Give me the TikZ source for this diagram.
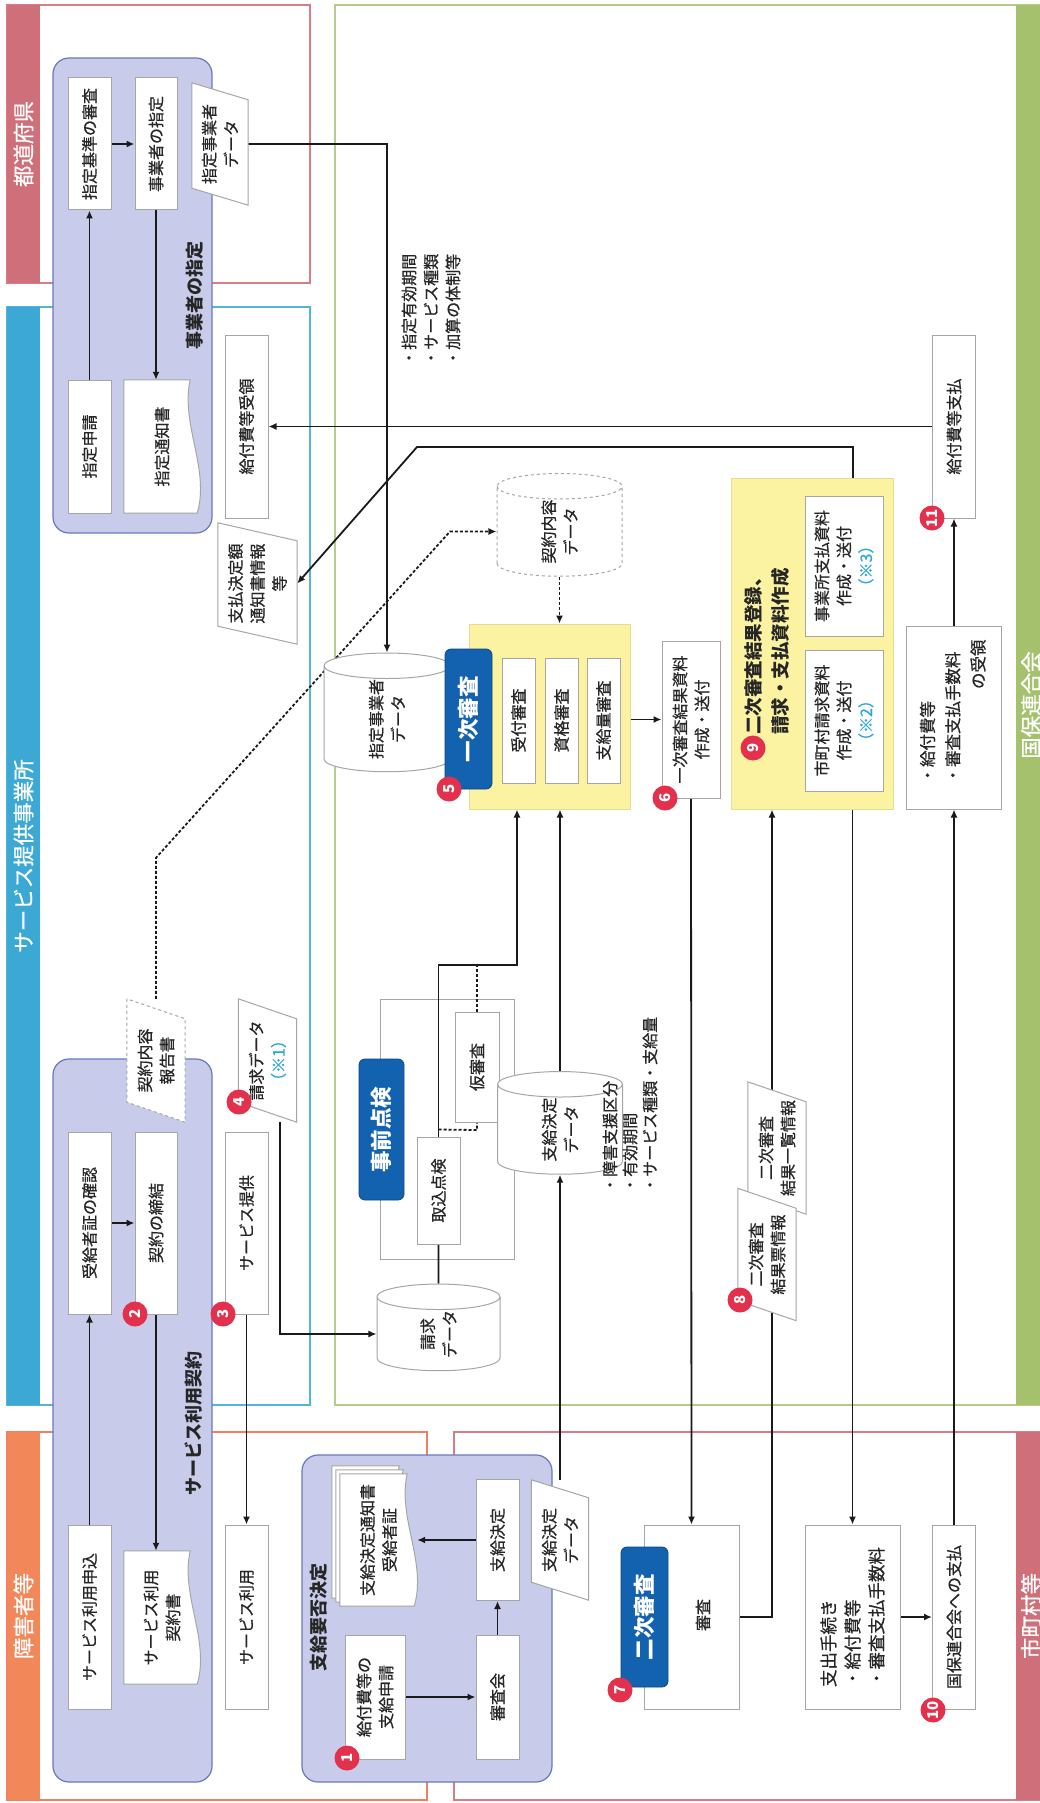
\documentclass[tikz,border=0pt]{standalone}
\usepackage{fontspec}
\setmainfont{Noto Sans CJK JP}[UprightFeatures={FakeBold=0.6}]
\usetikzlibrary{arrows.meta,calc,shapes.geometric}
\pgfdeclarelayer{bg}
\pgfdeclarelayer{lines}
\pgfdeclarelayer{shapes}
\pgfsetlayers{bg,lines,shapes,main}
\definecolor{pinkc}{HTML}{CF6F79}
\definecolor{pinkln}{HTML}{D67D86}
\definecolor{bluec}{HTML}{3CA9D5}
\definecolor{blueln}{HTML}{55B5D8}
\definecolor{orangec}{HTML}{F2875A}
\definecolor{orangeln}{HTML}{F27E62}
\definecolor{greenc}{HTML}{A6C16E}
\definecolor{greenln}{HTML}{B6CB8C}
\definecolor{grpfill}{HTML}{C8CCEA}
\definecolor{grpborder}{HTML}{6A79BD}
\definecolor{ylwfill}{HTML}{FCF3A2}
\definecolor{ylwborder}{HTML}{E8DC8E}
\definecolor{lblblue}{HTML}{1362B0}
\definecolor{numred}{HTML}{E3314D}
\definecolor{boxgray}{HTML}{A6A6A6}
\definecolor{lk}{HTML}{1A1A1A}
\definecolor{txtc}{HTML}{262626}
\definecolor{cyanc}{HTML}{2BA8D8}
\tikzset{
 tbase/.style={font=\fontsize{16}{22}\selectfont, text=txtc, inner sep=0pt, align=center},
 tbox/.style={tbase, rectangle, draw=boxgray, fill=white, line width=1pt},
 tplain/.style={tbase, rectangle},
 parashape/.style={draw=boxgray, fill=white, line width=1pt},
 docshape/.style={draw=boxgray, fill=white, line width=1pt},
 dbase/.style={tbase, cylinder, shape aspect=0.7, draw=boxgray, fill=white, line width=1pt},
 ylw/.style={rectangle, draw=ylwborder, fill=ylwfill, line width=1pt, inner sep=0pt},
 lbl/.style={rectangle, rounded corners=6pt, fill=lblblue, draw=lblblue!70!black, line width=0.8pt, text=white, font=\bfseries\fontsize{21.5}{24}\selectfont, inner sep=0pt},
 grplbl/.style={font=\bfseries\fontsize{18}{22}\selectfont, text=txtc, inner sep=0pt},
 hdr/.style={font=\fontsize{21.5}{24}\selectfont, text=white, inner sep=0pt},
 num/.style={circle, fill=numred, text=white, font=\bfseries\fontsize{15}{15}\selectfont, minimum size=25pt, inner sep=0pt},
 grp/.style={draw=grpborder, fill=grpfill, line width=1.2pt, rounded corners=16pt},
 lane/.style={line width=1.4pt, fill=white},
 arr/.style={draw=lk, line width=1.8pt, -{Latex[length=8pt,width=7pt]}},
 ln/.style={draw=lk, line width=1.8pt},
 dotarr/.style={draw=lk, line width=1.8pt, dash pattern=on 3pt off 2pt, -{Latex[length=8pt,width=7pt]}},
 dotln/.style={draw=lk, line width=1.8pt, dash pattern=on 3pt off 2pt}
}
\newcommand{\drawpara}[3][]{%
  \begin{pgfonlayer}{shapes}
    \draw[parashape,#1] (#2.north east) -- ($(#2.north west)+(-#3,0)$) -- (#2.south west) -- ($(#2.south east)+(#3,0)$) -- cycle;
  \end{pgfonlayer}}
\newcommand{\drawdoc}[3]{%
  \begin{pgfonlayer}{shapes}
  \draw[docshape] ($(#1.north east)+(#3,#3)$) -- ($(#1.north west)+(#3,#3)$) -- ($(#1.south west)+(#3,#3)+(0,-3)$) .. controls ($(#1.south west)+(#3,#3)+(-#2,10)$) and ($(#1.south east)+(#3,#3)+(#2,-20)$) .. ($(#1.south east)+(#3,#3)+(0,-10)$) -- cycle;
  \end{pgfonlayer}}
\begin{document}
\begin{tikzpicture}
\begin{scope}[x=-1pt, y=-1pt, rotate=90, transform shape]
\useasboundingbox (0,0) rectangle (1803,1040);
\begin{pgfonlayer}{bg}
 \fill[white] (0,0) rectangle (1803,1040);
 \draw[lane, draw=pinkln] (5,7) rectangle (283,310);
 \fill[pinkc] (5,7) rectangle (283,40);
 \draw[lane, draw=blueln] (307,7) rectangle (1405,310);
 \fill[bluec] (307,7) rectangle (1405,40);
 \draw[lane, draw=orangeln] (1432,7) rectangle (1800,427);
 \fill[orangec] (1432,7) rectangle (1800,40);
 \draw[lane, draw=greenln] (5,335) rectangle (1405,1060);
 \fill[greenc] (5,1016) rectangle (1405,1060);
 \draw[lane, draw=pinkln] (1432,454) rectangle (1800,1060);
 \fill[pinkc] (1432,1016) rectangle (1800,1060);
 \draw[grp] (58,53) rectangle (533,212);
 \draw[grp] (1059,53) rectangle (1782,212);
 \draw[grp] (1455,302) rectangle (1782,552);
 \draw[draw=boxgray, line width=1pt, fill=white] (999,380) rectangle (1259,514);
\end{pgfonlayer}
% lane headers
\node[hdr] (h1) at (144,23.5) {都道府県};
\node[hdr] (h2) at (856,23.5) {サービス提供事業所};
\node[hdr] (h3) at (1616,23.5) {障害者等};
\node[hdr] (h4) at (705,1031) {国保連合会};
\node[hdr] (h5) at (1616,1031) {市町村等};
% group labels
\node[grplbl] (gl1) at (295,195) {事業者の指定};
\node[grplbl] (gl2) at (1423,194) {サービス利用契約};
\node[grplbl] (gl3) at (1617,319) {支給要否決定};
% 事業者の指定
\node[tbox, minimum width=132pt, minimum height=43pt] (b1) at (144,89.5) {指定基準の審査};
\node[tbox, minimum width=132pt, minimum height=42pt] (b2) at (144,156) {事業者の指定};
\node[tbox, minimum width=133pt, minimum height=43pt] (b3) at (446.5,89.5) {指定申請};
\node[tplain, minimum width=133pt, minimum height=76pt] (d1) at (446.5,162) {指定通知書};
\drawdoc{d1}{44}{0}
\node[tplain, minimum width=122pt, minimum height=56pt] (p1) at (144,220) {指定事業者\\データ};
\drawpara{p1}{17}
\node[tbox, minimum width=183pt, minimum height=43pt] (b4) at (426.5,246.5) {給付費等受領};
\node[tplain, minimum width=121pt, minimum height=79pt] (p2) at (583.5,257.5) {支払決定額\\通知書情報\\等};
\drawpara{p2}{18}
% サービス利用契約
\node[tbox, minimum width=182pt, minimum height=43pt] (b5) at (1223,89.5) {受給者証の確認};
\node[tbox, minimum width=182pt, minimum height=42pt] (b6) at (1223,156) {契約の締結};
\node[tplain, minimum width=123pt, minimum height=58pt] (p3) at (1060.5,156) {契約内容\\報告書};
\drawpara[dashed]{p3}{20}
\node[tbox, minimum width=182pt, minimum height=43pt] (b7) at (1223,246.5) {サービス提供};
\node[tplain, minimum width=123pt, minimum height=58pt] (p4) at (1060.5,267.5) {請求データ\\{\color{cyanc}（※1）}};
\drawpara{p4}{20}
\node[tbox, minimum width=184pt, minimum height=43pt] (b8) at (1617,89.5) {サービス利用申込};
\node[tplain, minimum width=133pt, minimum height=76pt] (d2) at (1617.5,162) {サービス利用\\契約書};
\drawdoc{d2}{44}{0}
\node[tbox, minimum width=184pt, minimum height=43pt] (b9) at (1617,246.5) {サービス利用};
% 一次審査
\node[dbase, minimum width=126pt, minimum height=56pt] (c1) at (719,387) {指定事業者\\データ};
\node[dbase, dashed, minimum width=125pt, minimum height=55pt] (c2) at (531.5,559.5) {契約内容\\データ};
\node[ylw, minimum width=185pt, minimum height=161pt] (Y1) at (716.5,549.5) {};
\node[lbl, minimum width=140pt, minimum height=47pt] (B1) at (719,468.5) {一次審査};
\node[tbox, minimum width=125pt, minimum height=33pt] (b10) at (720.5,518.5) {受付審査};
\node[tbox, minimum width=125pt, minimum height=33pt] (b11) at (720.5,561.5) {資格審査};
\node[tbox, minimum width=125pt, minimum height=33pt] (b12) at (720.5,603.5) {支給量審査};
\node[tbox, minimum width=157pt, minimum height=58pt] (b13) at (719.5,691) {一次審査結果資料\\作成・送付};
% 二次審査結果登録
\node[ylw, minimum width=331pt, minimum height=162pt] (Y2) at (643.5,812) {};
\node[tbase, align=left, anchor=west, font=\bfseries\fontsize{18.5}{27}\selectfont] (t9) at (735,767) {二次審査結果登録、\\請求・支払資料作成};
\node[tbox, minimum width=140pt, minimum height=78pt] (b14) at (566,844) {事業所支払資料\\作成・送付\\{\color{cyanc}（※3）}};
\node[tbox, minimum width=141pt, minimum height=78pt] (b15) at (720.5,844) {市町村請求資料\\作成・送付\\{\color{cyanc}（※2）}};
\node[tbox, minimum width=183pt, minimum height=95pt, font=\fontsize{16.5}{22}\selectfont] (b16) at (717.5,954) {\def\arraystretch{1.15}\begin{tabular}{@{}l@{}}・給付費等\\・審査支払手数料\\\multicolumn{1}{@{}r@{}}{の受領\hspace*{-12pt}}\end{tabular}};
\node[tbox, minimum width=183pt, minimum height=43pt] (b17) at (426.5,954) {給付費等支払};
\node[tbase, align=left, anchor=west] (T2) at (366,431) {・指定有効期間\\・サービス種類\\・加算の体制等};
% 事前点検
\node[lbl, minimum width=141pt, minimum height=45pt] (B2) at (1129.5,381.5) {事前点検};
\node[tbox, minimum width=107pt, minimum height=43pt] (b18) at (1190.5,438.5) {取込点検};
\node[tbox, minimum width=110pt, minimum height=44pt] (b19) at (1067,477) {仮審査};
\node[dbase, minimum width=123pt, minimum height=57pt] (c3) at (1334,438.5) {請求\\データ};
\node[dbase, minimum width=125pt, minimum height=55pt] (c4) at (1129.5,560) {支給決定\\データ};
\node[tbase, align=left, anchor=west, font=\fontsize{16}{20}\selectfont] (T1) at (1193,630) {・障害支援区分\\・有効期間\\・サービス種類・支給量};
\node[tplain, minimum width=132pt, minimum height=58pt] (p5) at (1148,777) {二次審査\\結果一覧情報};
\drawpara{p5}{20}
\node[tplain, minimum width=132pt, minimum height=58pt] (p6) at (1254.5,767) {二次審査\\結果票情報};
\drawpara{p6}{20}
% 市町村等
\node[tbox, minimum width=184pt, minimum height=95pt] (b20) at (1617,691.5) {};
\node[lbl, minimum width=140pt, minimum height=47pt] (B3) at (1617,644.5) {二次審査};
\node[tbase] (b20t) at (1615,703) {審査};
\node[tbox, minimum width=184pt, minimum height=95pt, align=left, font=\fontsize{17.5}{24}\selectfont] (b21) at (1617,852.5) {支出手続き\\・給付費等\\・審査支払手数料};
\node[tbox, minimum width=184pt, minimum height=43pt] (b22) at (1617,954) {国保連合会への支払};
% 支給要否決定
\node[tbox, minimum width=124pt, minimum height=60pt] (b23) at (1697,375) {給付費等の\\支給申請};
\node[tbox, minimum width=124pt, minimum height=43pt] (b24) at (1697,497.5) {審査会};
\node[tbox, minimum width=121pt, minimum height=43pt] (b25) at (1540,497.5) {支給決定};
\node[tplain, minimum width=132pt, minimum height=77pt] (d3) at (1540,378.5) {支給決定通知書\\受給者証};
\drawdoc{d3}{44}{-8}
\drawdoc{d3}{44}{-4}
\drawdoc{d3}{44}{0}
\node[tplain, minimum width=120pt, minimum height=57pt] (p7) at (1540,560) {支給決定\\データ};
\drawpara{p7}{18}
% connectors
\begin{pgfonlayer}{lines}
 \draw[arr] (b3.east) -- (b1.west);
 \draw[arr] (b1.south) -- (b2.north);
 \draw[arr] (b2.west) -- ($(d1.east)+(0,-6)$);
 \draw[arr] (p1.south) -- (144,387) -- (c1.east);
 \draw[arr] (c1.south) -- (B1.north);
 \draw[dotarr] (c2.west) -- ($(Y1.east)+(0,10)$);
 \draw[dotarr] (p3.east) -- ++(-141,0) -- (531.5,450) -- (c2.north);
 \draw[arr] ($(Y1.south)+(3,0)$) -- (b13.north);
 \draw[arr] ($(b14.east)+(0,9)$) -- (447,853) -- (447,417) -- (p2.south);
 \draw[arr] (b17.north) -- (b4.south);
 \draw[arr] (b16.east) -- (b17.west);
 \draw[arr] (b20.south) -- (1617,772) -- ($(Y2.west)+(0,-40)$);
 \draw[arr] (b13.west) -- (b20.east);
 \draw[arr] ($(b15.west)+(0,8.5)$) -- (b21.east);
 \draw[arr] (b21.south) -- (b22.north);
 \draw[arr] (b22.east) -- (b16.west);
 \draw[ln] (c3.east) -- (b18.west);
 \draw[arr] (b18.east) -- (965,438.5) -- (965,517) -- ($(Y1.west)+(0,-32.5)$);
 \draw[dotln] ($(b18.east)+(-7,0)$) -- (1130,477) -- (b19.west);
 \draw[dotln] (b19.east) -- (965,477);
 \draw[arr] (p7.east) -- (c4.west);
 \draw[arr] (c4.east) -- ($(Y1.west)+(0,10.5)$);
 \draw[arr] ($(p4.west)+(0,12.5)$) -- (1334,280) -- (c3.north);
 \draw[arr] (b7.west) -- (b9.east);
 \draw[arr] (b8.east) -- (b5.west);
 \draw[arr] (b5.south) -- (b6.north);
 \draw[arr] (b6.west) -- ($(d2.east)+(0,-6)$);
 \draw[arr] (b23.south) -- (b24.north);
 \draw[arr] (b24.east) -- (b25.west);
 \draw[arr] (b25.north) -- (d3.south);
\end{pgfonlayer}
% numbers
\node[num] (n1) at (1758,347) {1};
\node[num] (n2) at (1314,135) {2};
\node[num] (n3) at (1314,223) {3};
\node[num] (n4) at (1102,239) {4};
\node[num] (n5) at (789,449) {5};
\node[num] (n6) at (798,665) {6};
\node[num] (n7) at (1690,620) {7};
\node[num] (n8) at (1300,740) {8};
\node[num] (n9) at (748,753) {9};
\node[num] (n10) at (1710,933) {10};
\node[num] (n11) at (518,932) {11};
\end{scope}
\end{tikzpicture}
\end{document}
